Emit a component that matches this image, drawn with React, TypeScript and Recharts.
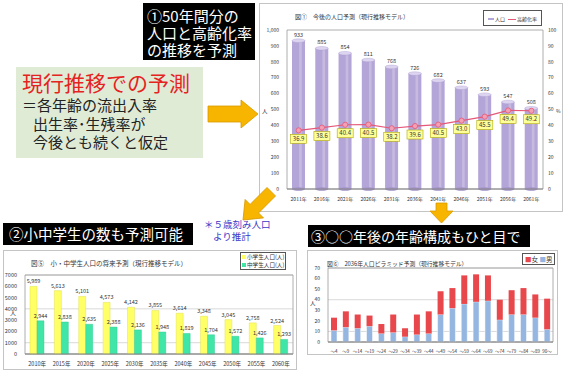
import React from 'react'
import {
  ComposedChart, BarChart, Bar, Line, XAxis, YAxis, CartesianGrid, LabelList, ReferenceArea,
} from 'recharts'

// 図① 今後の人口予測
const years = ['2011年', '2016年', '2021年', '2026年', '2031年', '2036年', '2041年', '2046年', '2051年', '2056年', '2061年']
const population = [933, 885, 854, 811, 768, 726, 682, 637, 593, 547, 508]
const agingRate = [36.9, 38.6, 40.4, 40.5, 38.2, 39.6, 40.5, 43.0, 45.5, 49.4, 49.2]

// 図⑤ 小・中学生人口の将来予測
const schoolYears = ['2010年', '2015年', '2020年', '2025年', '2030年', '2035年', '2040年', '2045年', '2050年', '2055年', '2060年']
const elementary = [5989, 5613, 5101, 4573, 4142, 3855, 3614, 3348, 3045, 2758, 2524]
const juniorHigh = [2944, 2838, 2635, 2388, 2136, 1948, 1819, 1704, 1572, 1426, 1293]

// 図⑥ 2036年人口ピラミッド予測
const ageGroups = ['～4', '～9', '～14', '～19', '～24', '～29', '～34', '～39', '～44', '～49', '～54', '～59', '～64', '～69', '～74', '～79', '～84', '～89', '90～']
const male = [11, 14, 13, 15, 8, 9, 5, 7, 8, 26, 32, 36, 38, 39, 21, 26, 26, 23, 12]
const female = [12, 15, 13, 10, 9, 17, 8, 19, 21, 22, 19, 27, 26, 24, 19, 23, 25, 22, 29]

const popData = years.map((year, i) => ({ year, pop: population[i], rate: agingRate[i] }))
const schoolData = schoolYears.map((year, i) => ({ year, elem: elementary[i], junior: juniorHigh[i] }))
const pyramidData = ageGroups.map((age, i) => ({ age, male: male[i], female: female[i] }))

const FONT = '"Noto Sans CJK JP", "Noto Sans", sans-serif'

function Cylinder(props: any) {
  const { x, y, width, height } = props
  const rx = width / 2
  return (
    <g>
      <rect x={x} y={y} width={width} height={height} fill="#b4a5d8" />
      <rect x={x + width * 0.55} y={y} width={width * 0.2} height={height} fill="#c6badf" />
      <ellipse cx={x + rx} cy={y + height} rx={rx} ry={1.8} fill="#a393c9" />
      <ellipse cx={x + rx} cy={y} rx={rx} ry={1.8} fill="#ddd5f0" stroke="#a899cf" strokeWidth={0.4} />
    </g>
  )
}

function RateLabel(props: any) {
  const { x, y, value } = props
  return (
    <g>
      <rect x={x - 8} y={y + 4} width={16} height={9} fill="#ffff99" stroke="#b0a800" strokeWidth={0.6} />
      <text x={x} y={y + 10.6} textAnchor="middle" fontSize={6} fill="#333" fontFamily={FONT}>
        {Number(value).toFixed(1)}
      </text>
    </g>
  )
}

function Frame({ left, top, width, height, children }: any) {
  return (
    <div style={{
      position: 'absolute', left, top, width: width - 2, height: height - 2,
      border: '1px solid #c4c4c4', background: '#fff',
    }}>
      {children}
    </div>
  )
}

function Abs({ left, top, style, children }: any) {
  return <div style={{ position: 'absolute', left, top, whiteSpace: 'nowrap', ...style }}>{children}</div>
}

function PopulationChart() {
  return (
    <Frame left={259} top={3} width={304} height={209}>
      <ComposedChart width={302} height={207} data={popData} margin={{ top: 26, right: 0, bottom: 0, left: 0 }}>
        <ReferenceArea yAxisId="left" y1={0} y2={1000} fill="none" stroke="#9a9a9a" strokeWidth={0.8} ifOverflow="visible" />
        <XAxis dataKey="year" height={22} tickLine={false} axisLine={{ stroke: '#888' }}
          tick={{ fontSize: 5, fill: '#333' }} interval={0} />
        <YAxis yAxisId="left" domain={[0, 1000]} ticks={[0, 100, 200, 300, 400, 500, 600, 700, 800, 900, 1000]}
          width={27} tickLine={false} axisLine={false} tick={{ fontSize: 5, fill: '#333' }}
          tickFormatter={(v: number) => v.toLocaleString('en-US')} />
        <YAxis yAxisId="right" orientation="right" domain={[0, 100]} ticks={[0, 10, 20, 30, 40, 50, 60, 70, 80, 90, 100]}
          width={19} tickLine={false} axisLine={false} tick={{ fontSize: 5, fill: '#333', dx: -3 }} />
        <Bar yAxisId="left" dataKey="pop" barSize={13} shape={Cylinder} isAnimationActive={false}>
          <LabelList dataKey="pop" position="top" offset={4} style={{ fontSize: 5.5, fill: '#333' }} />
        </Bar>
        <Line yAxisId="right" dataKey="rate" stroke="#e4587a" strokeWidth={1.2} isAnimationActive={false}
          dot={{ r: 2.6, fill: '#f2a0b4', stroke: '#e4587a', strokeWidth: 0.8 }}>
          <LabelList dataKey="rate" content={RateLabel} />
        </Line>
      </ComposedChart>
      <Abs left={35} top={8} style={{ fontSize: 6, color: '#333' }}>図①　今後の人口予測（現行推移モデル）</Abs>
      <Abs left={223} top={6} style={{
        width: 57, height: 14, border: '1px solid #555', fontSize: 5, color: '#333',
        display: 'flex', alignItems: 'center', justifyContent: 'center', gap: 3,
      }}>
        <span><span style={{ display: 'inline-block', width: 6, height: 1.5, background: '#b4a5d8', verticalAlign: 'middle', marginRight: 1 }} />人口</span>
        <span><span style={{ display: 'inline-block', width: 8, height: 1.2, background: '#e4587a', verticalAlign: 'middle', marginRight: 1 }} />高齢化率</span>
      </Abs>
      <Abs left={2} top={103} style={{ fontSize: 5.5, color: '#333' }}>人</Abs>
      <Abs left={296} top={103} style={{ fontSize: 5, color: '#333' }}>%</Abs>
    </Frame>
  )
}

function SchoolChart() {
  return (
    <Frame left={3} top={250} width={294} height={120}>
      <BarChart width={292} height={118} data={schoolData} margin={{ top: 24, right: 3, bottom: 0, left: 0 }}
        barGap={0} barCategoryGap="20%">
        <CartesianGrid vertical={false} stroke="#c8c8c8" strokeWidth={0.7} />
        <ReferenceArea y1={0} y2={7000} fill="none" stroke="#9a9a9a" strokeWidth={0.8} ifOverflow="visible" />
        <XAxis dataKey="year" height={15} tickLine={false} axisLine={{ stroke: '#888' }}
          tick={{ fontSize: 5.5, fill: '#333' }} interval={0} />
        <YAxis domain={[0, 7000]} ticks={[0, 1000, 2000, 3000, 4000, 5000, 6000, 7000]} width={21}
          tickLine={false} axisLine={false} tick={{ fontSize: 5.5, fill: '#333' }} />
        <Bar dataKey="elem" barSize={7} fill="#ffff66" stroke="#d8d840" strokeWidth={0.4} isAnimationActive={false}>
          <LabelList dataKey="elem" position="top" offset={3} style={{ fontSize: 5.5, fill: '#333' }}
            formatter={(v: any) => Number(v).toLocaleString('en-US')} />
        </Bar>
        <Bar dataKey="junior" barSize={7} fill="#40e6a8" stroke="#2cc48c" strokeWidth={0.4} isAnimationActive={false}>
          <LabelList dataKey="junior" position="top" offset={3} style={{ fontSize: 5.5, fill: '#333' }}
            formatter={(v: any) => Number(v).toLocaleString('en-US')} />
        </Bar>
      </BarChart>
      <Abs left={27} top={7} style={{ fontSize: 6.5, color: '#333' }}>図⑤　小・中学生人口の将来予測（現行推移モデル）</Abs>
      <Abs left={236} top={1} style={{ border: '1px solid #555', fontSize: 5.6, lineHeight: '8px', color: '#333', padding: '0 1px', background: '#fff' }}>
        <div><span style={{ display: 'inline-block', width: 4, height: 4, background: '#ffff66', marginRight: 1 }} />小学生人口(人)</div>
        <div><span style={{ display: 'inline-block', width: 4, height: 4, background: '#40e6a8', marginRight: 1 }} />中学生人口(人)</div>
      </Abs>
      <Abs left={6} top={57} style={{ fontSize: 6, color: '#333' }}>人</Abs>
    </Frame>
  )
}

function PyramidChart() {
  return (
    <Frame left={307} top={250} width={251} height={105}>
      <BarChart width={249} height={103} data={pyramidData} margin={{ top: 17, right: 4, bottom: 0, left: 0 }}>
        <CartesianGrid vertical={false} stroke="#c8c8c8" strokeWidth={0.7} />
        <ReferenceArea y1={0} y2={70} fill="none" stroke="#9a9a9a" strokeWidth={0.8} ifOverflow="visible" />
        <XAxis dataKey="age" height={12} tickLine={false} axisLine={{ stroke: '#888' }}
          tick={{ fontSize: 4.5, fill: '#333' }} interval={0} />
        <YAxis domain={[0, 70]} ticks={[0, 10, 20, 30, 40, 50, 60, 70]} width={20}
          tickLine={false} axisLine={false} tick={{ fontSize: 5, fill: '#333' }} />
        <Bar dataKey="male" stackId="p" barSize={6} fill="#95b6e0" stroke="#ffffff" strokeWidth={0.5} isAnimationActive={false} />
        <Bar dataKey="female" stackId="p" barSize={6} fill="#e8474c" isAnimationActive={false} />
      </BarChart>
      <Abs left={19} top={8} style={{ fontSize: 5.8, color: '#333' }}>図⑥　2036年人口ピラミッド予測（現行推移モデル）</Abs>
      <Abs left={214} top={2} style={{ border: '1px solid #555', fontSize: 6.5, lineHeight: '10px', color: '#333', padding: '0 2px', background: '#fff' }}>
        <span style={{ color: '#e8474c' }}>■</span>女 <span style={{ color: '#95b6e0' }}>■</span>男
      </Abs>
      <Abs left={2} top={48} style={{ fontSize: 5.5, color: '#333' }}>人</Abs>
    </Frame>
  )
}

export default function App() {
  return (
    <div style={{ position: 'absolute', left: 0, top: 0, width: 567, height: 383, background: '#fff', overflow: 'hidden', fontFamily: FONT }}>
      {/* ① box */}
      <Abs left={143} top={3} style={{
        width: 112, height: 57, background: '#000', color: '#fff', fontSize: 15, lineHeight: '17px',
        padding: '4px 0 0 4px', boxSizing: 'border-box',
      }}>
        <div>①50年間分の</div>
        <div>人口と高齢化率</div>
        <div>の推移を予測</div>
      </Abs>

      {/* green explanation box */}
      <Abs left={16} top={67} style={{ width: 187, height: 91, background: '#e0ebd6' }}>
        <div style={{ position: 'absolute', left: 6, top: 3, fontSize: 21, lineHeight: '24px', color: '#e5231f' }}>現行推移での予測</div>
        <div style={{ position: 'absolute', left: 6, top: 29, fontSize: 15, lineHeight: '18.5px', color: '#222' }}>
          <div>＝各年齢の流出入率</div>
          <div style={{ paddingLeft: 11 }}>出生率･生残率が</div>
          <div style={{ paddingLeft: 11 }}>今後とも続くと仮定</div>
        </div>
      </Abs>

      <PopulationChart />

      {/* ② box */}
      <Abs left={3} top={223} style={{
        width: 190, height: 22, background: '#000', color: '#fff', fontSize: 14.5, lineHeight: '22px', paddingLeft: 6, boxSizing: 'border-box',
      }}>②小中学生の数も予測可能</Abs>

      <Abs left={204} top={219} style={{ color: '#3a3ac8', fontSize: 9.5, lineHeight: '11.5px' }}>
        <div>＊５歳刻み人口</div>
        <div style={{ paddingLeft: 9 }}>より推計</div>
      </Abs>

      {/* ③ box */}
      <Abs left={308} top={225} style={{
        width: 222, height: 22, background: '#000', color: '#fff', fontSize: 14, lineHeight: '22px', paddingLeft: 3, boxSizing: 'border-box',
      }}>③○○年後の年齢構成もひと目で</Abs>

      <SchoolChart />
      <PyramidChart />

      {/* arrows */}
      <svg width={567} height={383} style={{ position: 'absolute', left: 0, top: 0, pointerEvents: 'none' }}>
        <polygon points="208,106 241,106 241,100 258,114 241,128 241,122 208,122" fill="#f7b500" stroke="#d99a00" strokeWidth={0.8} />
        <polygon points="436,203 447,203 447,211 453,211 441.5,223 430,211 436,211" fill="#f7b500" stroke="#d99a00" strokeWidth={0.8} />
        <polygon points="0,-6 24,-6 24,-13 40,0 24,13 24,6 0,6" fill="#f7b500" stroke="#d99a00" strokeWidth={0.8}
          transform="translate(243,220) rotate(135) translate(-40,0)" />
      </svg>
    </div>
  )
}
